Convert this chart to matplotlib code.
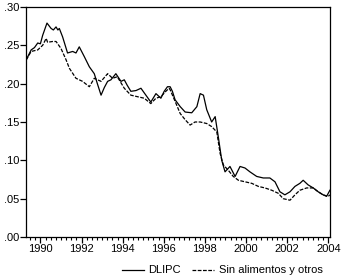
import numpy as np
import matplotlib
matplotlib.use("Agg")
import matplotlib.pyplot as plt
from matplotlib.ticker import MultipleLocator, FuncFormatter

plt.rcParams['font.family'] = ['Liberation Sans', 'DejaVu Sans']

# DLIPC (linea continua)
t_dlipc = [1989.31, 1989.55, 1989.71, 1989.87, 1990.00, 1990.11, 1990.32, 1990.52,
           1990.63, 1990.76, 1990.85, 1990.92, 1991.08, 1991.32, 1991.57, 1991.73,
           1991.89, 1992.14, 1992.38, 1992.62, 1992.77, 1992.95, 1993.11, 1993.27,
           1993.43, 1993.67, 1993.92, 1994.08, 1994.22, 1994.40, 1994.65, 1994.89,
           1995.13, 1995.37, 1995.62, 1995.86, 1996.02, 1996.18, 1996.31, 1996.42,
           1996.55, 1996.80, 1997.04, 1997.36, 1997.61, 1997.77, 1997.93, 1998.09,
           1998.33, 1998.50, 1998.65, 1998.82, 1998.98, 1999.22, 1999.47, 1999.71,
           1999.95, 2000.19, 2000.52, 2000.84, 2001.16, 2001.41, 2001.65, 2001.89,
           2002.14, 2002.38, 2002.62, 2002.78, 2003.02, 2003.27, 2003.51, 2003.75,
           2003.92, 2004.08]
dlipc = [0.231, 0.244, 0.247, 0.253, 0.252, 0.263, 0.279, 0.272,
         0.270, 0.274, 0.270, 0.272, 0.261, 0.240, 0.242, 0.240,
         0.248, 0.235, 0.222, 0.213, 0.200, 0.185, 0.195, 0.203,
         0.205, 0.213, 0.203, 0.205, 0.198, 0.190, 0.191, 0.194,
         0.185, 0.176, 0.187, 0.181, 0.190, 0.196, 0.196, 0.190,
         0.179, 0.170, 0.163, 0.162, 0.170, 0.187, 0.185, 0.166,
         0.150, 0.157, 0.131, 0.100, 0.085, 0.092, 0.079, 0.092,
         0.090, 0.085, 0.079, 0.077, 0.077, 0.072, 0.059, 0.055,
         0.059, 0.066, 0.070, 0.074, 0.068, 0.064, 0.059, 0.055,
         0.053, 0.061]

# Sin alimentos y otros (linea discontinua)
t_sin = [1989.31, 1989.55, 1989.87, 1990.11, 1990.28, 1990.35, 1990.60, 1990.76,
         1991.00, 1991.25, 1991.41, 1991.73, 1992.05, 1992.38, 1992.62, 1992.95,
         1993.27, 1993.51, 1993.74, 1994.08, 1994.40, 1994.72, 1995.05, 1995.37,
         1995.62, 1995.86, 1996.10, 1996.26, 1996.31, 1996.55, 1996.80, 1997.04,
         1997.28, 1997.52, 1997.77, 1998.09, 1998.33, 1998.58, 1998.74, 1998.90,
         1999.14, 1999.38, 1999.63, 1999.95, 2000.28, 2000.60, 2000.92, 2001.25,
         2001.57, 2001.81, 2002.14, 2002.38, 2002.62, 2002.95, 2003.27, 2003.51,
         2003.75, 2004.00, 2004.08]
sin_alim = [0.231, 0.242, 0.244, 0.250, 0.259, 0.254, 0.255, 0.255,
            0.246, 0.231, 0.220, 0.207, 0.203, 0.196, 0.207, 0.203,
            0.213, 0.207, 0.209, 0.194, 0.185, 0.183, 0.181, 0.174,
            0.181, 0.183, 0.190, 0.194, 0.192, 0.177, 0.161, 0.153,
            0.146, 0.150, 0.150, 0.148, 0.144, 0.137, 0.109, 0.094,
            0.087, 0.079, 0.074, 0.072, 0.070, 0.066, 0.064, 0.061,
            0.057, 0.050, 0.048, 0.055, 0.061, 0.064, 0.064, 0.059,
            0.055, 0.053, 0.055]

fig = plt.figure(figsize=(3.44, 2.79), dpi=100)
ax = fig.add_axes([0.0756, 0.1505, 0.8834, 0.8245])

ax.plot(t_dlipc, dlipc, color='black', lw=0.9, label='DLIPC')
ax.plot(t_sin, sin_alim, color='black', lw=0.9, linestyle=(0, (3, 1.2)),
        label='Sin alimentos y otros')

ax.set_xlim(1989.3, 2004.08)
ax.set_ylim(0, 0.30)
ax.xaxis.set_major_locator(MultipleLocator(2))
ax.xaxis.set_minor_locator(MultipleLocator(0.25))
ax.yaxis.set_major_locator(MultipleLocator(0.05))
ax.xaxis.set_major_formatter(FuncFormatter(lambda v, p: '%d' % round(v)))
ax.yaxis.set_major_formatter(FuncFormatter(lambda v, p: ('%.2f' % v)[1:]))

ax.tick_params(axis='both', which='major', direction='out', length=4, width=0.9,
               labelsize=8, pad=1)
ax.tick_params(axis='x', which='minor', direction='out', length=2.5, width=0.8)
for s in ax.spines.values():
    s.set_linewidth(0.9)

ax.legend(loc='upper center', bbox_to_anchor=(0.645, -0.08), ncol=2, frameon=False,
          fontsize=8, handlelength=2.0, columnspacing=1.0, handletextpad=0.4)

fig.savefig('out.png', dpi=100)
